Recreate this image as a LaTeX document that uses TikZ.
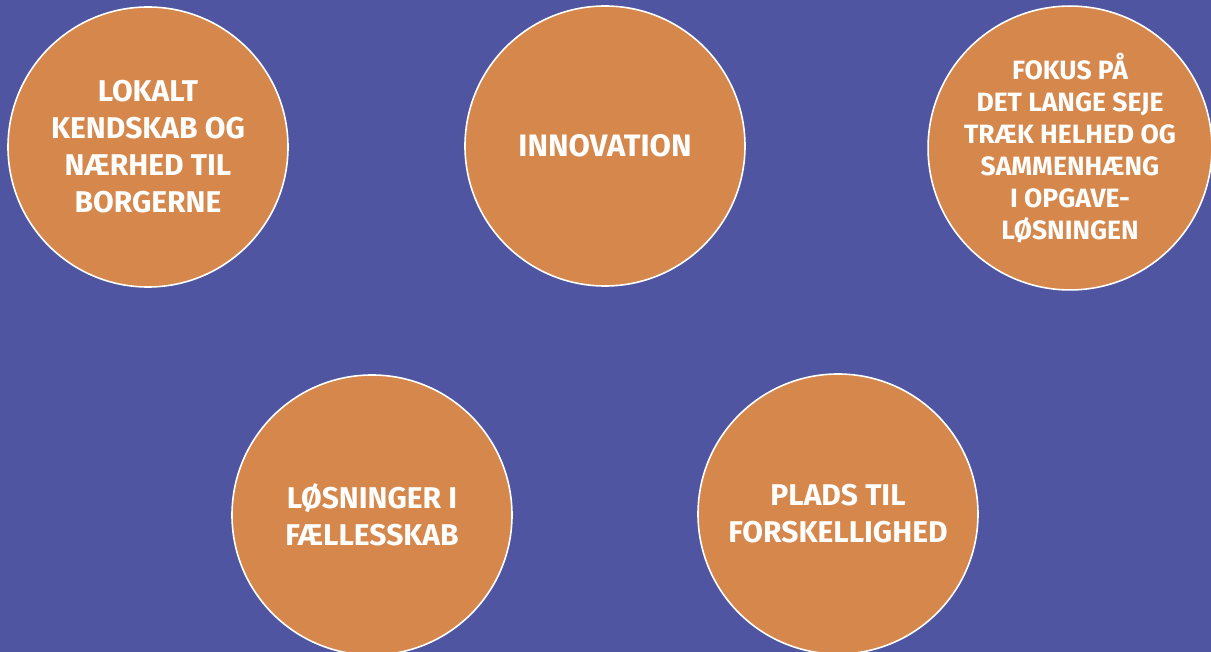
\documentclass[tikz,border=0pt]{standalone}
\usepackage{fontspec}
\setmainfont{Fira Sans}
\definecolor{bg}{HTML}{4F55A0}
\definecolor{orng}{HTML}{D6874C}
\begin{document}
\begin{tikzpicture}[x=1pt,y=-1pt,
  blob/.style={circle,fill=orng,draw=white,line width=1.6pt,minimum size=280pt,inner sep=0pt,
    align=center,text=white,font=\bfseries\fontsize{30}{37}\selectfont},
  smallblob/.style={blob,font=\bfseries\fontsize{26.5}{32}\selectfont}]
\useasboundingbox (0,0) rectangle (1211,652);
\fill[bg] (0,0) rectangle (1211,652);
\begin{scope}
\clip (0,0) rectangle (1211,652);
\node[blob] (c1) at (148,147) {LOKALT\\KENDSKAB OG\\NÆRHED TIL\\BORGERNE};
\node[blob,font=\bfseries\fontsize{31}{37}\selectfont] (c2) at (605,146) {INNOVATION};
\node[smallblob] (c3) at (1070,148) {FOKUS PÅ\\DET LANGE SEJE\\TRÆK HELHED OG\\SAMMENHÆNG\\I OPGAVE-\\LØSNINGEN};
\node[blob] (c4) at (372,515) {LØSNINGER I\\FÆLLESSKAB};
\node[blob] (c5) at (838,514) {PLADS TIL\\FORSKELLIGHED};
\end{scope}
\end{tikzpicture}
\end{document}
